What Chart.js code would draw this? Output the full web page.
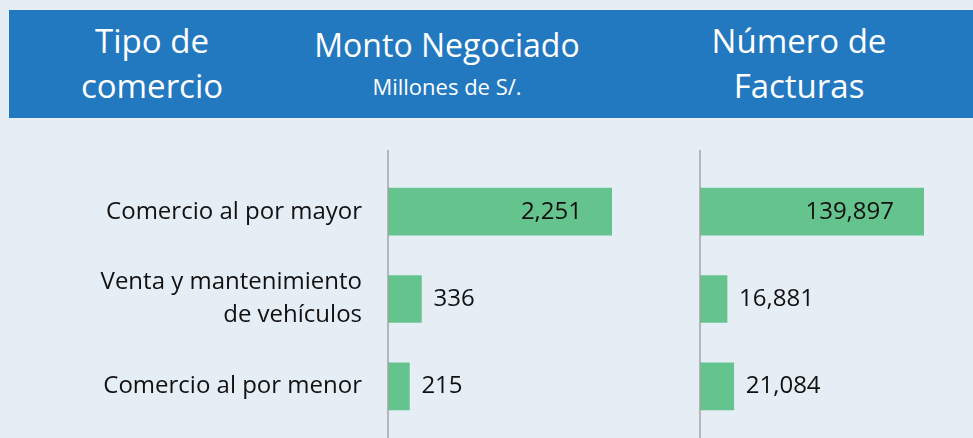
<!DOCTYPE html>
<html>
<head>
<meta charset="utf-8">
<script src="https://cdn.jsdelivr.net/npm/chart.js@4.4.1/dist/chart.umd.min.js"></script>
<style>
  html, body { margin: 0; padding: 0; }
  body { width: 973px; height: 438px; background: #e6eef5; position: relative; overflow: hidden; font-family: "Open Sans", sans-serif; }
  .band { position: absolute; left: 9px; top: 10px; width: 964px; height: 108px; background: #2379c0; }
  .head { position: absolute; color: #fff; text-align: center; font-size: 33px; line-height: 45px; }
  .head small { display: block; font-size: 22px; line-height: 39px; }
  .box { position: absolute; top: 140px; height: 298px; }
</style>
</head>
<body>
<div class="band"></div>
<div class="head" style="left:52px; width:200px; top:18px;">Tipo de<br>comercio</div>
<div class="head" style="left:297px; width:300px; top:22px; font-size:32px;">Monto Negociado<small>Millones de S/.</small></div>
<div class="head" style="left:649px; width:300px; top:18px;">Número de<br>Facturas</div>

<div class="box" style="left:0; width:650px;"><canvas id="montoChart"></canvas></div>
<div class="box" style="left:650px; width:323px;"><canvas id="facturasChart"></canvas></div>

<script>
// categorías y valores
const categories = [
  ['Comercio al por mayor'],
  ['Venta y mantenimiento', 'de vehículos'],
  ['Comercio al por menor']
];
const montoValues = [2251, 336, 215];        // Millones de S/.
const facturasValues = [139897, 16881, 21084]; // Número de facturas

const barColor = '#65c38e';
const textColor = '#111111';

// dibuja la línea del eje y las etiquetas de valor
const valueLabels = {
  id: 'valueLabels',
  afterDatasetsDraw(chart) {
    const ctx = chart.ctx;
    const left = chart.scales.x.left;
    ctx.save();
    ctx.strokeStyle = '#a3a3a3';
    ctx.lineWidth = 1.5;
    ctx.beginPath();
    ctx.moveTo(left, 10);
    ctx.lineTo(left, chart.height);
    ctx.stroke();

    const values = chart.data.datasets[0].data;
    const max = Math.max(...values);
    ctx.font = '24px "Open Sans"';
    ctx.fillStyle = textColor;
    ctx.textBaseline = 'middle';
    chart.getDatasetMeta(0).data.forEach((bar, i) => {
      const txt = values[i].toLocaleString('en-US');
      if (values[i] / max > 0.5) {
        ctx.textAlign = 'right';
        ctx.fillText(txt, bar.x - 30, bar.y);
      } else {
        ctx.textAlign = 'left';
        ctx.fillText(txt, bar.x + 12, bar.y);
      }
    });
    ctx.restore();
  }
};

function makeChart(canvasId, values, showLabels, padding) {
  return new Chart(document.getElementById(canvasId), {
    type: 'bar',
    data: {
      labels: categories,
      datasets: [{
        data: values,
        backgroundColor: barColor,
        borderWidth: 0,
        barThickness: 47
      }]
    },
    options: {
      indexAxis: 'y',
      responsive: true,
      maintainAspectRatio: false,
      animation: false,
      layout: { padding: padding },
      plugins: { legend: { display: false }, tooltip: { enabled: false } },
      scales: {
        x: {
          display: false,
          min: 0,
          max: Math.max(...values)
        },
        y: {
          display: showLabels,
          grid: { display: false, drawTicks: false },
          border: { display: false },
          ticks: {
            color: textColor,
            padding: 26,
            font: { family: '"Open Sans"', size: 24, lineHeight: 1.375 }
          },
          afterFit(scale) {
            if (showLabels) scale.width = 388;
            scale.paddingTop = 0;
            scale.paddingBottom = 0;
          }
        }
      }
    },
    plugins: [valueLabels]
  });
}

makeChart('montoChart', montoValues, true, { left: 0, right: 38, top: 28, bottom: 8 });
makeChart('facturasChart', facturasValues, false, { left: 50, right: 49, top: 28, bottom: 8 });
</script>
</body>
</html>
